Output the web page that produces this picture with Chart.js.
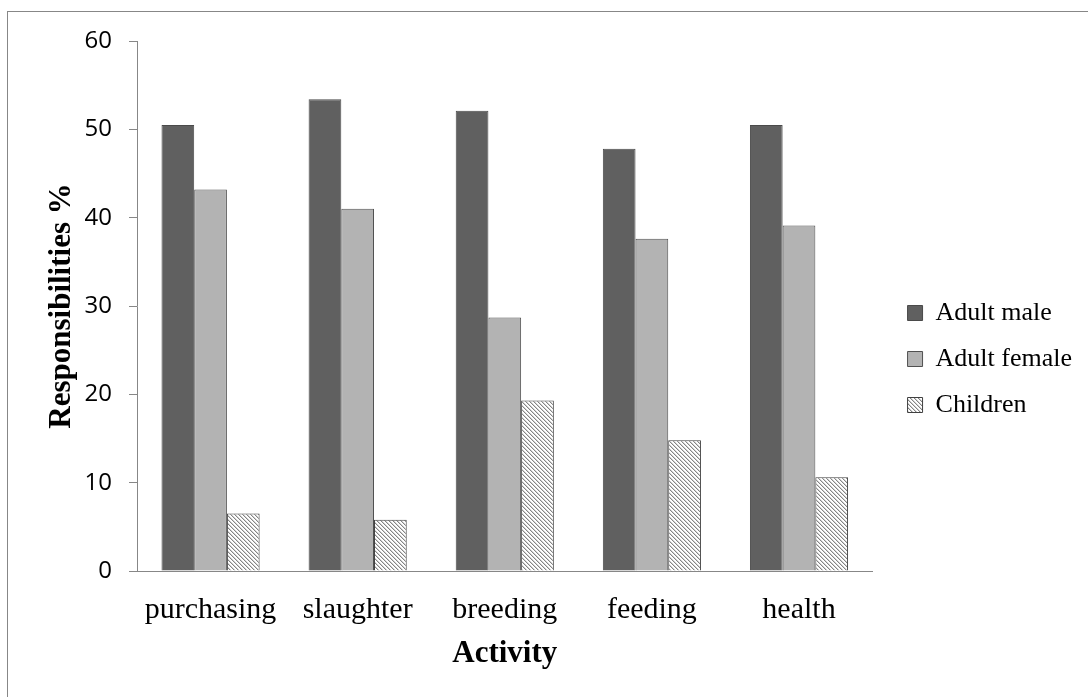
<!DOCTYPE html>
<html>
<head>
<meta charset="utf-8">
<script src="https://cdn.jsdelivr.net/npm/chart.js@4.4.1/dist/chart.umd.min.js"></script>
<style>
  html, body { margin: 0; padding: 0; background: #fff; overflow: hidden; }
  #frame {
    position: absolute; left: 7px; top: 11px; width: 1200px; height: 800px;
    border-left: 1px solid #878787; border-top: 1px solid #878787;
  }
  #wrap { position: absolute; left: 0; top: 0; width: 1088px; height: 697px; }
</style>
</head>
<body>
<div id="frame"></div>
<div id="wrap"><canvas id="chart"></canvas></div>
<script>
const categories = ["purchasing", "slaughter", "breeding", "feeding", "health"];
const adultMale = [50.5, 53.4, 52.1, 47.8, 50.5];
const adultFemale = [43.2, 41.0, 28.7, 37.6, 39.1];
const children = [6.5, 5.8, 19.3, 14.8, 10.6];
const yTicks = [0, 10, 20, 30, 40, 50, 60];

// hatch for the children series
function makeHatch() {
  const c = document.createElement("canvas");
  c.width = 4;
  c.height = 4;
  const g = c.getContext("2d");
  g.fillStyle = "#ffffff";
  g.fillRect(0, 0, 4, 4);
  for (let i = 0; i < 4; i++) {
    g.fillStyle = "#858585";
    g.fillRect(i, i, 1, 1);
    g.fillStyle = "#d2d2d2";
    g.fillRect((i + 1) % 4, i, 1, 1);
  }
  return g.createPattern(c, "repeat");
}

// leave some room between the plot and the legend
const legendGap = {
  id: "legendGap",
  afterInit(chart) {
    const lg = chart.legend;
    if (!lg) return;
    const fit = lg.fit;
    const draw = lg.draw;
    lg.fit = function () {
      fit.call(this);
      this.width += 21;
    };
    lg.draw = function () {
      this.left += 15;
      draw.call(this);
      this.left -= 15;
    };
  },
};

const ctx = document.getElementById("chart").getContext("2d");
const hatch = makeHatch();
const axisGrey = "#878787";
const serif = "'Liberation Serif', 'Times New Roman', serif";

new Chart(ctx, {
  type: "bar",
  data: {
    labels: categories,
    datasets: [
      {
        label: "Adult male",
        data: adultMale,
        backgroundColor: "#606060",
        borderColor: "#4a4a4a",
        borderWidth: 1,
      },
      {
        label: "Adult female",
        data: adultFemale,
        backgroundColor: "#b3b3b3",
        borderColor: "#505050",
        borderWidth: 1,
      },
      {
        label: "Children",
        data: children,
        backgroundColor: hatch,
        borderColor: "#404040",
        borderWidth: 1,
      },
    ],
  },
  plugins: [legendGap],
  options: {
    responsive: true,
    maintainAspectRatio: false,
    animation: false,
    devicePixelRatio: 1,
    layout: { padding: { top: 41, bottom: 20, left: 39, right: 0 } },
    datasets: {
      bar: { categoryPercentage: 0.667, barPercentage: 1.0, borderSkipped: "start" },
    },
    plugins: {
      tooltip: { enabled: false },
      legend: {
        position: "right",
        align: "center",
        labels: {
          color: "#000",
          font: { family: serif, size: 26 },
          boxWidth: 15,
          boxHeight: 15,
          padding: 20,
        },
      },
    },
    scales: {
      x: {
        afterFit: (s) => { s.height = 106; },
        grid: { display: true, drawOnChartArea: false, drawTicks: false },
        border: { color: axisGrey, width: 1 },
        ticks: {
          color: "#000",
          padding: 21,
          maxRotation: 0,
          font: { family: serif, size: 30 },
        },
        title: {
          display: true,
          text: "Activity",
          color: "#000",
          padding: { top: 2, bottom: 4 },
          font: { family: serif, size: 31, weight: "bold" },
        },
      },
      y: {
        min: 0,
        max: 60,
        afterBuildTicks: (s) => { s.ticks = yTicks.map((v) => ({ value: v })); },
        afterFit: (s) => { s.width = 98; },
        grid: { drawOnChartArea: false, drawTicks: true, tickLength: 8, color: axisGrey },
        border: { color: axisGrey, width: 1 },
        ticks: {
          color: "#000",
          padding: 17,
          font: { family: "'Open Sans', 'Noto Sans', sans-serif", size: 24 },
        },
        title: {
          display: true,
          text: "Responsibilities %",
          color: "#000",
          padding: { top: 4, bottom: 4 },
          font: { family: serif, size: 31, weight: "bold" },
        },
      },
    },
  },
});
</script>
</body>
</html>
